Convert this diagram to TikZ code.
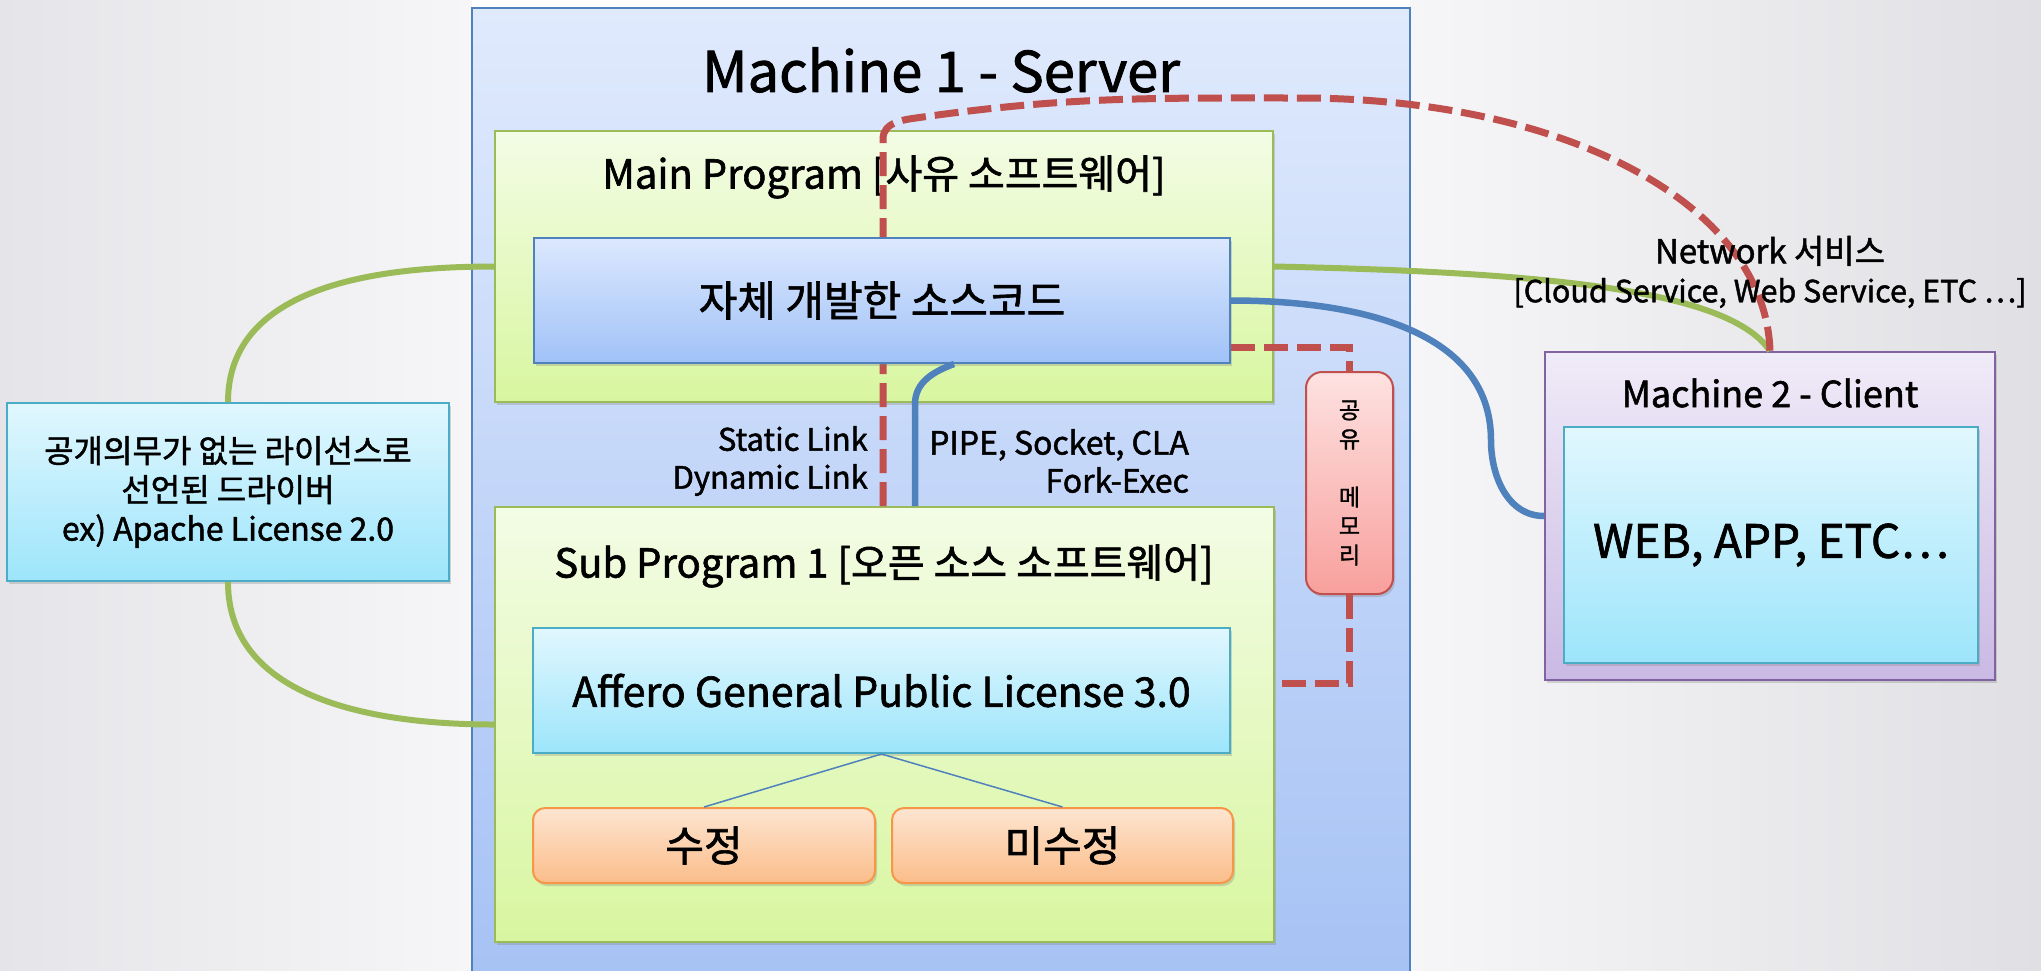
\documentclass[tikz,border=0pt]{standalone}
\usepackage{fontspec}
\setmainfont{Noto Sans CJK KR}[FakeBold=1.5]
\usetikzlibrary{positioning, shadows}

\definecolor{bgL}{RGB}{229,229,233}
\definecolor{bgM}{RGB}{246,246,248}
\definecolor{bgR}{RGB}{224,224,228}
\definecolor{srvT}{RGB}{224,234,253}
\definecolor{srvB}{RGB}{166,194,244}
\definecolor{bluB}{RGB}{79,129,189}
\definecolor{bluT}{RGB}{220,232,254}
\definecolor{bluD}{RGB}{160,194,247}
\definecolor{grnB}{RGB}{155,187,89}
\definecolor{grnT}{RGB}{243,252,229}
\definecolor{grnD}{RGB}{216,246,160}
\definecolor{cyaB}{RGB}{75,172,198}
\definecolor{cyaT}{RGB}{225,247,254}
\definecolor{cyaD}{RGB}{157,229,251}
\definecolor{orgB}{RGB}{247,150,70}
\definecolor{orgT}{RGB}{253,229,209}
\definecolor{orgD}{RGB}{251,189,138}
\definecolor{redB}{RGB}{192,80,77}
\definecolor{redT}{RGB}{253,226,225}
\definecolor{redD}{RGB}{248,160,157}
\definecolor{purB}{RGB}{128,100,162}
\definecolor{purT}{RGB}{240,235,248}
\definecolor{purD}{RGB}{202,185,228}

\begin{document}
\begin{tikzpicture}[
      x=1pt, y=-1pt,
      dshadow/.style={drop shadow={shadow xshift=2pt, shadow yshift=-3pt, opacity=.3}},
      box/.style={rectangle, inner sep=0pt, line width=2pt, dshadow, align=center},
      srvbox/.style={rectangle, inner sep=0pt, line width=1.5pt, draw=bluB, top color=srvT, bottom color=srvB},
      progbox/.style={box, draw=grnB, top color=grnT, bottom color=grnD},
      srcbox/.style={box, draw=bluB, top color=bluT, bottom color=bluD},
      licbox/.style={box, draw=cyaB, top color=cyaT, bottom color=cyaD},
      modbox/.style={box, rounded corners=12pt, draw=orgB, top color=orgT, bottom color=orgD},
      shmbox/.style={box, rounded corners=16pt, draw=redB, top color=redT, bottom color=redD},
      clibox/.style={box, draw=purB, top color=purT, bottom color=purD},
      txt/.style={inner sep=0pt, align=center},
      greenlink/.style={line width=6pt, draw=grnB},
      bluelink/.style={line width=6.5pt, draw=bluB},
      redlink/.style={line width=7pt, draw=redB, dash pattern=on 24pt off 9pt},
      tree/.style={line width=1.5pt, draw=bluB}
    ]
    \useasboundingbox (0,0) rectangle (2041,970);
    \shade[left color=bgL, right color=bgM] (0,0) rectangle (472,970);
    \shade[left color=bgM, right color=bgR] (1410,0) rectangle (2041,970);

    % machine 1
    \node[srvbox, minimum width=938pt, minimum height=972pt] (server) at (941,494) {};
    \node[txt, font=\fontsize{56}{60}\selectfont] (servert) at (941,70) {Machine 1 - Server};
    \node[progbox, minimum width=778pt, minimum height=271pt] (main) at (884,266.5) {};
    \node[txt, font=\fontsize{40}{48}\selectfont] (maint) at (884,177) {Main Program [사유 소프트웨어]};
    \node[progbox, minimum width=779pt, minimum height=435pt] (sub) at (884.5,724.5) {};
    \node[txt, font=\fontsize{40}{48}\selectfont] (subt) at (884,566) {Sub Program 1 [오픈 소스 소프트웨어]};

    % machine 2 and driver
    \node[clibox, minimum width=450pt, minimum height=328pt] (client) at (1770,516) {};
    \node[txt, font=\fontsize{36}{42}\selectfont] (clientt) at (1770,393) {Machine 2 - Client};
    \node[licbox, minimum width=414pt, minimum height=236pt, font=\fontsize{46}{52}\selectfont] (web) at (1771,545) {WEB, APP, ETC…};
    \node[licbox, minimum width=442pt, minimum height=178pt, font=\fontsize{32}{39}\selectfont] (apache) at (228,492)
      {공개의무가 없는 라이선스로\\선언된 드라이버\\ex) Apache License 2.0};

    % links
    \draw[greenlink] (main.west) to[out=180,in=90] (apache.north);
    \draw[greenlink] (apache.south) to[out=-90,in=180] (sub.west);
    \draw[greenlink] (main.east) .. controls +(280,6) and +(-40,-60) .. (client.north);
    \draw[redlink] ([xshift=-1.5pt]sub.north) -- ++(0,-367) to[out=90,in=188] ++(40,-22)
      to[out=8,in=180] ++(377,-19) .. controls +(260,0) and +(-5,-150) .. (client.north);

    \node[srcbox, minimum width=696pt, minimum height=125pt, font=\fontsize{42}{48}\selectfont] (own) at (882,300.5) {자체 개발한 소스코드};
    \draw[bluelink] (own.east) to[out=0,in=90] ++(260,140) to[out=-90,in=180] (client.west);
    \draw[bluelink] ([xshift=72pt]own.south) to[out=200,in=90] ++(-39,40) -- ([xshift=30.5pt]sub.north);

    % sub program
    \node[licbox, minimum width=697pt, minimum height=125pt, font=\fontsize{41}{48}\selectfont] (agpl) at (881.5,690.5) {Affero General Public License 3.0};
    \node[modbox, minimum width=342pt, minimum height=75pt, font=\fontsize{42}{48}\selectfont] (mod) at (704,845.5) {수정};
    \node[modbox, minimum width=341pt, minimum height=75pt, font=\fontsize{42}{48}\selectfont] (unmod) at (1062.5,845.5) {미수정};
    \draw[tree] (agpl.south) -- (mod.north);
    \draw[tree] (agpl.south) -- (unmod.north);

    % shared memory
    \node[shmbox, minimum width=87pt, minimum height=222pt, font=\fontsize{23}{29}\selectfont] (shm) at (1349.5,483) {공\\유\\[29pt]메\\모\\리};
    \draw[redlink] ([yshift=-46.5pt]own.east) -| (shm.north);
    \draw[redlink] (shm.south) |- ([yshift=41.5pt]sub.east);

    % labels
    \node[txt, align=right, anchor=east, font=\fontsize{31}{38}\selectfont] (linkl) at (868,461) {Static Link\\Dynamic Link};
    \node[txt, align=right, anchor=west, font=\fontsize{32}{38}\selectfont] (ipcl) at (929,461) {PIPE, Socket, CLA\\Fork-Exec};
    \node[txt, font=\fontsize{33}{39}\selectfont] (netl) at (1770,272) {Network 서비스\\\fontsize{30.5}{39}\selectfont{[}Cloud Service, Web Service, ETC …{]}};
  \end{tikzpicture}
\end{document}
